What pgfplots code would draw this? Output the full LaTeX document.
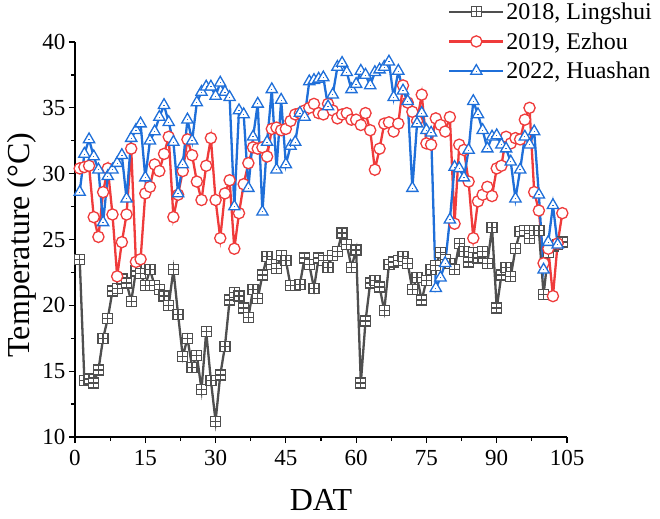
\documentclass[border=0pt]{standalone}
\usepackage{fontspec}
\setmainfont{Liberation Serif}
\usepackage{pgfplots}
\usepackage{pgfplotstable}
\pgfplotsset{compat=1.18}
\definecolor{cgray}{HTML}{4F4F4F}
\definecolor{cred}{HTML}{EF3B3B}
\definecolor{cblue}{HTML}{1F6FD9}

\pgfdeclareplotmark{sqplus}{%
  \pgfpathrectangle{\pgfpoint{-\pgfplotmarksize}{-\pgfplotmarksize}}{\pgfpoint{2\pgfplotmarksize}{2\pgfplotmarksize}}%
  \pgfusepathqfillstroke
  \pgfpathmoveto{\pgfpoint{-\pgfplotmarksize}{0pt}}\pgfpathlineto{\pgfpoint{\pgfplotmarksize}{0pt}}%
  \pgfpathmoveto{\pgfpoint{0pt}{-\pgfplotmarksize}}\pgfpathlineto{\pgfpoint{0pt}{\pgfplotmarksize}}%
  \pgfusepathqstroke}
\pgfdeclareplotmark{tridot}{%
  \pgfpathmoveto{\pgfpointpolar{90}{1.25\pgfplotmarksize}}%
  \pgfpathlineto{\pgfpointpolar{210}{1.25\pgfplotmarksize}}%
  \pgfpathlineto{\pgfpointpolar{330}{1.25\pgfplotmarksize}}%
  \pgfpathclose\pgfusepathqfillstroke
  \pgfpathmoveto{\pgfpoint{0pt}{-0.4pt}}\pgfpathlineto{\pgfpoint{0pt}{0.4pt}}\pgfusepathqstroke}

\pgfplotstableread{
d t
1 23.5
2 14.3
3 14.4
4 14.1
5 15.1
6 17.5
7 19.0
8 21.1
9 21.3
10 22.0
11 21.7
12 20.3
13 22.6
14 22.4
15 21.5
16 22.7
17 21.5
18 21.2
19 20.7
20 20.0
21 22.7
22 19.3
23 16.1
24 17.5
25 15.3
26 16.2
27 13.6
28 18.0
29 14.3
30 11.2
31 14.7
32 16.9
33 20.4
34 21.0
35 20.7
36 19.8
37 19.1
38 21.2
39 20.5
40 22.3
41 23.7
42 23.1
43 22.8
44 23.8
45 23.4
46 21.5
47 21.5
48 21.6
49 23.6
50 23.1
51 21.3
52 23.6
53 23.4
54 22.9
55 23.8
56 24.1
57 25.5
58 24.6
59 22.9
60 24.2
61 14.1
62 18.8
63 21.7
64 21.9
65 21.4
66 19.6
67 23.1
68 23.3
69 23.4
70 23.7
71 23.2
72 21.2
73 22.1
74 20.4
75 21.9
76 22.7
77 23.0
78 24.0
79 23.5
80 23.2
81 22.7
82 24.7
83 24.1
84 23.3
85 24.0
86 23.6
87 24.1
88 23.2
89 25.9
90 19.8
91 22.3
92 22.9
93 22.2
94 24.3
95 25.6
96 25.7
97 25.1
98 25.7
99 25.7
100 20.8
101 24.0
102 24.5
103 24.6
104 24.8
}\lingshui

\pgfplotstableread{
d t
1 30.4
2 30.5
3 30.6
4 26.7
5 25.2
6 28.6
7 30.4
8 26.9
9 22.2
10 24.8
11 26.9
12 31.9
13 23.3
14 23.5
15 28.5
16 29.0
17 30.7
18 30.2
19 31.5
20 32.8
21 26.7
22 28.4
23 30.2
24 32.6
25 31.4
26 29.4
27 28.0
28 30.6
29 32.7
30 28.0
31 25.1
32 28.5
33 29.5
34 24.3
35 27.0
36 29.2
37 30.8
38 32.0
39 31.9
40 32.0
41 31.3
42 33.4
43 33.5
44 33.3
45 33.4
46 34.0
47 34.5
48 34.6
49 34.8
50 35.0
51 35.3
52 34.6
53 34.5
54 35.3
55 34.8
56 34.2
57 34.5
58 34.6
59 34.1
60 34.1
61 33.7
62 34.6
63 33.3
64 30.3
65 31.9
66 33.8
67 33.9
68 33.2
69 33.8
70 36.7
71 35.4
72 34.7
73 34.0
74 36.0
75 32.3
76 32.2
77 34.2
78 33.7
79 33.2
80 34.3
81 26.2
82 32.2
83 31.8
84 29.4
85 25.1
86 27.9
87 28.4
88 29.0
89 28.3
90 30.4
91 30.6
92 32.8
93 32.3
94 32.7
95 32.6
96 34.1
97 35.0
98 28.6
99 27.2
100 23.2
101 24.3
102 20.7
103 24.7
104 27.0
}\ezhou

\pgfplotstableread{
d t
1 28.6
2 31.5
3 32.6
4 31.3
5 30.3
6 26.3
7 29.8
8 30.3
9 30.8
10 31.4
11 28.1
12 32.7
13 33.3
14 33.8
15 29.7
16 32.5
17 33.2
18 34.3
19 35.2
20 33.9
21 32.4
22 28.5
23 30.7
24 34.1
25 32.5
26 35.4
27 36.2
28 36.6
29 36.6
30 35.9
31 36.9
32 36.2
33 35.8
34 27.5
35 34.8
36 34.5
37 28.9
38 32.8
39 35.3
40 27.1
41 32.4
42 36.4
43 30.3
44 35.6
45 30.7
46 32.1
47 32.4
48 34.6
49 34.3
50 37.0
51 37.1
52 37.2
53 37.3
54 35.1
55 36.0
56 38.1
57 38.4
58 37.7
59 36.4
60 36.8
61 37.8
62 37.5
63 36.7
64 37.7
65 37.9
66 38.1
67 38.5
68 35.8
69 37.8
70 36.3
71 35.5
72 28.9
73 33.8
74 34.6
75 33.3
76 33.1
77 21.3
78 22.1
79 23.2
80 26.5
81 30.5
82 30.4
83 29.7
84 31.8
85 35.5
86 34.5
87 33.3
88 31.9
89 32.8
90 32.9
91 32.2
92 31.9
93 30.9
94 28.1
95 30.3
96 32.8
97 32.2
98 33.2
99 28.4
100 22.7
101 24.8
102 27.6
103 24.6
}\huashan

\begin{document}
\begin{tikzpicture}
\useasboundingbox (-75bp,-82bp) rectangle (585bp,437bp);
\begin{axis}[
  at={(0,0)}, anchor=south west,
  scale only axis,
  width=492bp, height=395bp,
  xmin=0, xmax=105, ymin=10, ymax=40,
  axis lines=left,
  axis line style={-, line width=1.2bp, black},
  xtick={0,15,...,105}, ytick={10,15,...,40},
  minor x tick num=1, minor y tick num=1,
  tick align=outside,
  major tick length=6bp, minor tick length=4bp,
  tick style={line width=1.2bp, black},
  /pgf/number format/assume math mode=true,
  tick label style={font=\fontsize{23bp}{26bp}\selectfont},
  xticklabel style={yshift=-4bp},
  xlabel={DAT}, ylabel={Temperature (°C)},
  label style={font=\fontsize{32bp}{36bp}\selectfont},
  xlabel style={at={(axis description cs:0.5,-0.16)}, anchor=center},
  ylabel style={at={(axis description cs:-0.108,0.486)}, anchor=center, rotate=0},
  legend style={draw=none, fill=none, at={(0.752,1.11)}, anchor=north west,
    font=\fontsize{24bp}{28bp}\selectfont, row sep=7.5bp,
    /tikz/every even column/.append style={column sep=2bp}},
  legend cell align=left,
  legend image code/.code={%
    \draw[mark repeat=2,mark phase=2] plot coordinates {(0bp,0bp) (27bp,0bp) (54bp,0bp)};},
  clip=false,
]
\addplot[color=cgray, line width=2.3bp, mark=sqplus, mark size=5bp,
  mark options={solid, fill=white, line width=1.3bp}] table[x=d,y=t] {\lingshui};
\addlegendentry{2018, Lingshui}
\addplot[color=cred, line width=2.3bp, mark=*, mark size=5.6bp,
  mark options={solid, fill=white, line width=1.3bp}] table[x=d,y=t] {\ezhou};
\addlegendentry{2019, Ezhou}
\addplot[color=cblue, line width=2.3bp, mark=tridot, mark size=5.2bp,
  mark options={solid, fill=white, line width=1.3bp}] table[x=d,y=t] {\huashan};
\addlegendentry{2022, Huashan}
\end{axis}
\end{tikzpicture}
\end{document}
